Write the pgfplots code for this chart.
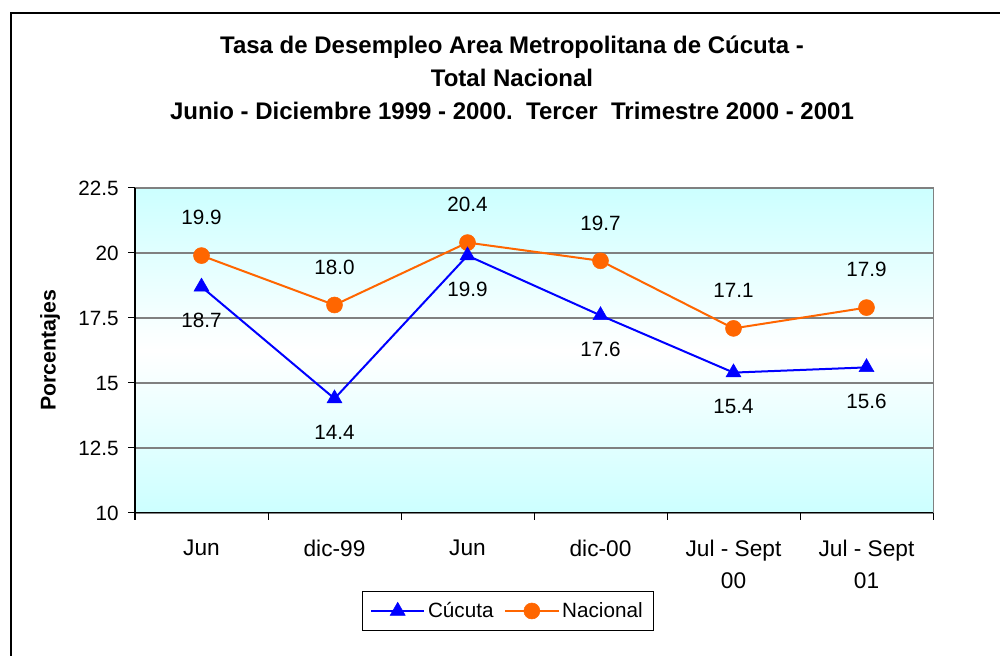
\documentclass[border=0pt]{standalone}
\usepackage{pgfplots}
\pgfplotsset{compat=1.18}
\usepackage{fontspec}
\setmainfont{Liberation Sans}
\definecolor{naranja}{RGB}{255,102,0}
\definecolor{azul}{RGB}{0,0,255}
\definecolor{celeste}{RGB}{204,255,255}
\definecolor{rejilla}{RGB}{128,128,128}

\begin{document}
\begin{tikzpicture}
\path[use as bounding box] (0,0) rectangle (750pt,492pt);
% marco exterior (cortado a la derecha y abajo)
\draw[line width=0.9pt] (8.25pt,-10pt) -- (8.25pt,482.25pt) -- (760pt,482.25pt);
\node[align=center, font=\bfseries\fontsize{18}{24.75}\selectfont] at (384pt,433.5pt)
  {Tasa de Desempleo Area Metropolitana de Cúcuta -\\Total Nacional\\
   Junio - Diciembre 1999 - 2000.\ \ Tercer\ \ Trimestre 2000 - 2001};

\begin{axis}[
  at={(101.25pt,107.25pt)}, anchor=south west,
  scale only axis, width=598.5pt, height=243.75pt,
  xmin=0.5, xmax=6.5, ymin=10, ymax=22.5,
  ytick={10,12.5,...,22.5},
  xtick={0.5,1.5,...,6.5}, xticklabels={},
  extra x ticks={1,2,3,4,5,6},
  extra x tick labels={Jun, dic-99, Jun, dic-00, {Jul - Sept\\00}, {Jul - Sept\\01}},
  extra x tick style={major tick length=0pt, grid=none},
  tick align=outside, major tick length=5.25pt,
  tick style={black, line width=0.75pt},
  axis x line*=bottom, axis y line*=left,
  axis line style={black, line width=0.75pt},
  ymajorgrids, major grid style={rejilla, line width=1.1pt},
  extra description/.code={
    \draw[rejilla, line width=0.75pt] (rel axis cs:0,1) -- (rel axis cs:1,1) -- (rel axis cs:1,0);
  },
  axis background/.style={top color=celeste, bottom color=celeste, middle color=white},
  /pgf/number format/assume math mode=true,
  yticklabel style={font=\fontsize{15.5}{18}\selectfont, xshift=-3.5pt},
  xticklabel style={font=\fontsize{17}{24}\selectfont, align=center, yshift=-17pt},
  ylabel={Porcentajes},
  ylabel style={font=\bfseries\fontsize{16}{19}\selectfont, at={(axis description cs:-0.1065,0.5)}, anchor=center},
  legend columns=2, reverse legend,
  legend style={at={(0.467,-0.3015)}, anchor=center, draw=black,
    font=\fontsize{15.5}{18}\selectfont, inner xsep=6pt, inner ysep=6pt,
    /tikz/every even column/.append style={column sep=6pt}},
  legend image code/.code={
    \draw[mark repeat=2, mark phase=2] plot coordinates {(0pt,0pt) (20pt,0pt) (40pt,0pt)};
  },
  every node near coord/.append style={font=\fontsize{15.5}{18}\selectfont, black, inner sep=0pt},
]
  % Nacional
  \addplot[naranja, line width=1.5pt, mark=*, mark size=6pt,
    mark options={line width=0.4pt, fill=naranja},
    nodes near coords={\pgfmathprintnumber[fixed,fixed zerofill,precision=1]{\pgfplotspointmeta}},
    every node near coord/.append style={anchor=base, yshift=23pt}]
    coordinates {(1,19.9) (2,18.0) (3,20.4) (4,19.7) (5,17.1) (6,17.9)};
  \addlegendentry{Nacional}
  % Cucuta
  \addplot[azul, line width=1.5pt, mark=triangle*, mark size=6.5pt,
    mark options={line width=0.4pt, fill=azul},
    nodes near coords={\pgfmathprintnumber[fixed,fixed zerofill,precision=1]{\pgfplotspointmeta}},
    every node near coord/.append style={anchor=base, yshift=-30.75pt}]
    coordinates {(1,18.7) (2,14.4) (3,19.9) (4,17.6) (5,15.4) (6,15.6)};
  \addlegendentry{Cúcuta}
\end{axis}
\end{tikzpicture}
\end{document}
